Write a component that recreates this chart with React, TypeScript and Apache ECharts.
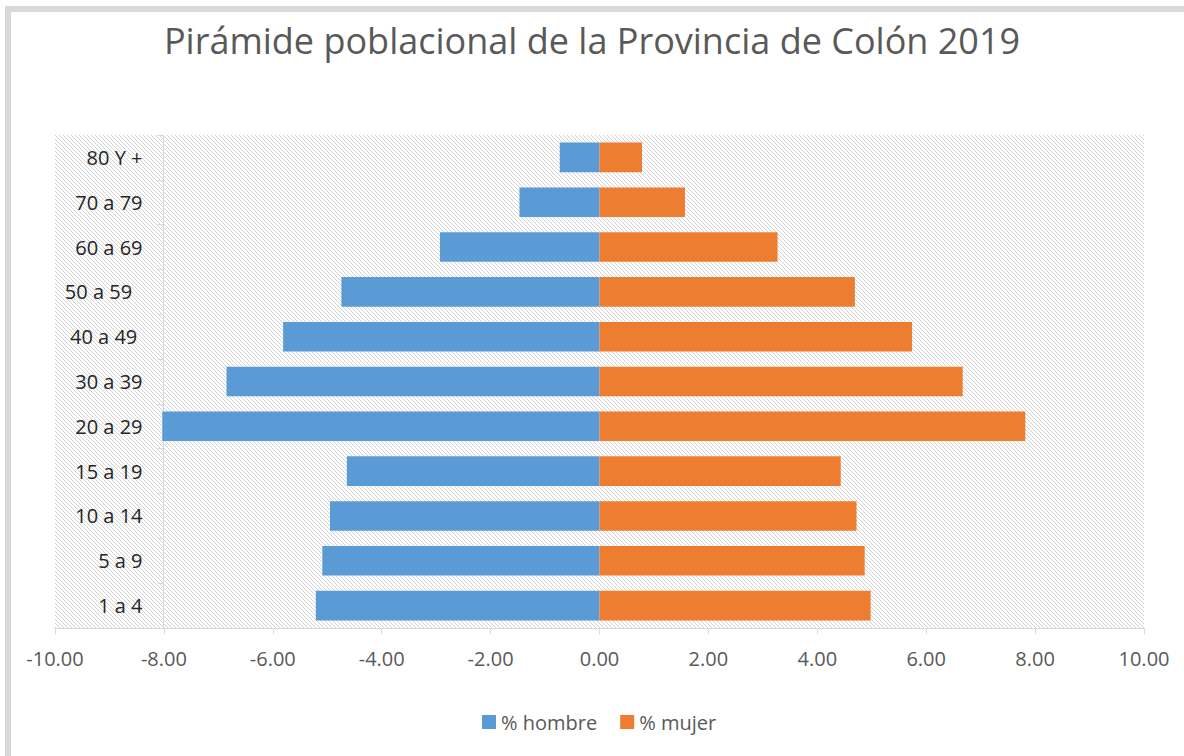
import React, { useEffect, useRef } from "react";
import * as echarts from "echarts";

const categories = [
  "1 a 4",
  "5 a 9",
  "10 a 14",
  "15 a 19",
  "20 a 29",
  "30 a 39",
  "40 a 49 ",
  "50 a 59  ",
  "60 a 69",
  "70 a 79",
  "80 Y +",
];
const maleValues = [-5.21, -5.09, -4.95, -4.64, -8.03, -6.85, -5.81, -4.74, -2.93, -1.47, -0.73];
const femaleValues = [4.98, 4.87, 4.72, 4.43, 7.82, 6.67, 5.74, 4.69, 3.27, 1.57, 0.78];
const seriesNames = ["% hombre", "% mujer"];
const titleText = "Pirámide poblacional de la Provincia de Colón 2019";
const xMin = -10;
const xMax = 10;
const xInterval = 2;

const FONT = "'Open Sans', 'Noto Sans', sans-serif";

function makeHatch(): HTMLCanvasElement {
  const c = document.createElement("canvas");
  c.width = 4;
  c.height = 4;
  const ctx = c.getContext("2d")!;
  ctx.fillStyle = "#ffffff";
  ctx.fillRect(0, 0, 4, 4);
  ctx.fillStyle = "#d3d3d3";
  for (let i = 0; i < 4; i++) ctx.fillRect(i, i, 1, 1);
  return c;
}

export default function App() {
  const ref = useRef<HTMLDivElement>(null);
  useEffect(() => {
    if (!ref.current) return;
    const chart = echarts.init(ref.current, undefined, { renderer: "svg" });
    const hatch = makeHatch();
    chart.setOption({
      animation: false,
      backgroundColor: "#ffffff",
      textStyle: { fontFamily: FONT },
      title: {
        text: titleText,
        left: "center",
        top: 17,
        textStyle: { fontFamily: FONT, fontSize: 36, fontWeight: "normal", color: "#595959" },
      },
      graphic: [
        {
          type: "rect",
          shape: { x: 8, y: 9, width: 1400, height: 1000 },
          style: { fill: "none", stroke: "#d9d9d9", lineWidth: 6 },
          silent: true,
        },
      ],
      legend: {
        data: seriesNames,
        left: 482,
        top: 712,
        padding: 0,
        icon: "rect",
        itemWidth: 14,
        itemHeight: 14,
        itemGap: 23,
        textStyle: { fontFamily: FONT, fontSize: 20, color: "#595959" },
      },
      grid: {
        left: 55,
        width: 1089,
        top: 135,
        bottom: 128,
        show: true,
        borderWidth: 0,
        backgroundColor: { image: hatch, repeat: "repeat", imageWidth: 4, imageHeight: 4 } as any,
      },
      xAxis: {
        type: "value",
        min: xMin,
        max: xMax,
        interval: xInterval,
        splitLine: { show: false },
        axisLine: { show: true, lineStyle: { color: "#d9d9d9", width: 1 } },
        axisTick: { show: true, length: 6, lineStyle: { color: "#d9d9d9" } },
        axisLabel: {
          margin: 20,
          fontFamily: FONT,
          fontSize: 20,
          color: "#595959",
          formatter: (v: number) => v.toFixed(2),
        },
      },
      yAxis: {
        type: "category",
        data: categories,
        position: "left",
        offset: -108.5,
        axisLine: { show: true, onZero: false, lineStyle: { color: "#d9d9d9", width: 1 } },
        axisTick: { show: true, length: 6, lineStyle: { color: "#d9d9d9" } },
        axisLabel: { margin: 21, fontFamily: FONT, fontSize: 20, color: "#262626" },
        splitLine: { show: false },
      },
      series: [
        {
          name: seriesNames[0],
          type: "bar",
          stack: "total",
          data: maleValues,
          barCategoryGap: "34%",
          itemStyle: { color: "#5b9bd5" },
        },
        {
          name: seriesNames[1],
          type: "bar",
          stack: "total",
          data: femaleValues,
          barCategoryGap: "34%",
          itemStyle: { color: "#ed7d31" },
        },
      ],
    });
    return () => chart.dispose();
  }, []);
  return (
    <div
      ref={ref}
      style={{ position: "fixed", left: 0, top: 0, width: 1184, height: 756 }}
    />
  );
}
